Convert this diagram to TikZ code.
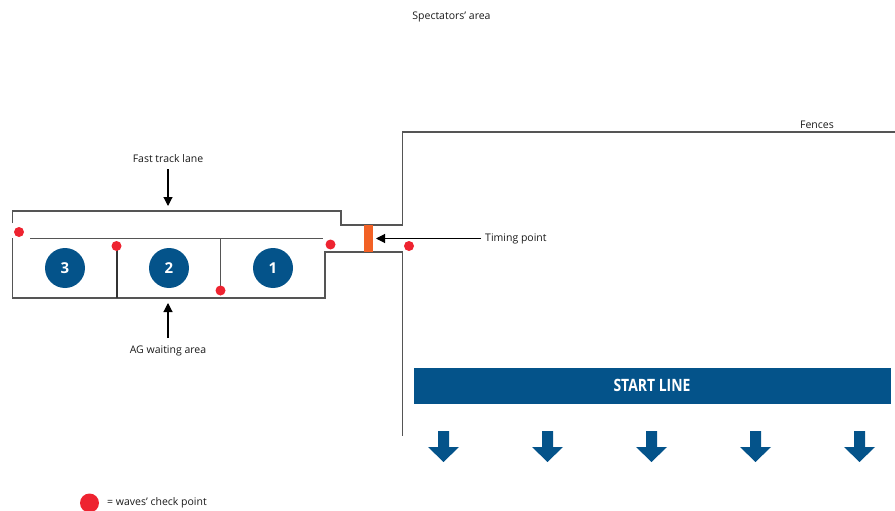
\documentclass[tikz,border=0pt]{standalone}
\usepackage{fontspec}
\setmainfont{Open Sans}
\usetikzlibrary{arrows.meta}
\definecolor{navy}{HTML}{04538A}
\definecolor{wall}{HTML}{555555}
\definecolor{dotred}{HTML}{EE2330}
\definecolor{timing}{HTML}{F26125}
\tikzset{
  x=1pt,y=-1pt,
  wallline/.style={draw=wall,line width=1.4pt,line join=miter},
  thinwall/.style={draw=black!80,line width=1.1pt},
  lbl/.style={font=\fontsize{10.5}{12}\selectfont,inner sep=0pt,text=black!90},
  pointer/.style={draw=black,line width=1.1pt,-{Triangle[length=9pt,width=9pt]}},
  numdisc/.style={circle,fill=navy,minimum size=40pt,inner sep=0pt,text=white,font=\bfseries\fontsize{15}{17}\selectfont},
  chk/.style={circle,fill=dotred,minimum size=10pt,inner sep=0pt},
  downarrow/.style={fill=navy,draw=none},
}
\newcommand{\flowarrow}[1]{\fill[downarrow] (#1-5.5,431) -- (#1+5.5,431) -- (#1+5.5,447) -- (#1+15.5,447) -- (#1,462) -- (#1-15.5,447) -- (#1-5.5,447) -- cycle;}
\begin{document}
\begin{tikzpicture}
\useasboundingbox (0,0) rectangle (895,511);
% walls
\draw[wallline] (12.5,223) -- (12.5,211) -- (341,211) -- (341,225) -- (402.5,225) -- (402.5,132) -- (895,132);
\draw[wallline] (12.5,238) -- (12.5,298) -- (325,298) -- (325,252) -- (402.5,252) -- (402.5,436);
\draw[wallline] (30,238.5) -- (323,238.5);
\draw[thinwall] (117,246) -- (117,298);
\draw[wallline] (220.5,238.5) -- (220.5,291);
% timing gate
\fill[timing] (363.5,225) rectangle (372.5,252);
% checkpoints
\node[chk] (c1) at (19,232) {};
\node[chk] (c2) at (116.5,246) {};
\node[chk] (c3) at (220.5,290.5) {};
\node[chk] (c4) at (330.5,244.5) {};
\node[chk] (c5) at (409,246) {};
% waiting area numbers
\node[numdisc] (n3) at (65,268) {3};
\node[numdisc] (n2) at (169,268) {2};
\node[numdisc] (n1) at (273,268) {1};
% start line
\node[fill=navy,minimum width=477pt,minimum height=36.5pt,inner sep=0pt,text=white,font=\bfseries\fontsize{17}{19}\selectfont] (start) at (652,385.75) {\addfontfeature{FakeStretch=0.82}START LINE};
\flowarrow{443.5}\flowarrow{547.5}\flowarrow{651.5}\flowarrow{755.5}\flowarrow{859.5}
% labels
\node[lbl] (spec) at (451.5,17) {Spectators’ area};
\node[lbl] (fences) at (817,125) {Fences};
\node[lbl] (fast) at (168,159) {Fast track lane};
\node[lbl] (ag) at (168,351) {AG waiting area};
\node[lbl,anchor=west] (tp) at (485,238.5) {Timing point};
\coordinate (fastT) at (168,206);
\coordinate (agT) at (168,303);
\coordinate (tpT) at (376,238.5);
\draw[pointer] (168,169) -- (fastT);
\draw[pointer] (168,338) -- (agT);
\draw[pointer] (tp.west) ++(-4,0) -- (tpT);
% legend
\node[circle,fill=dotred,minimum size=19pt,inner sep=0pt] (leg) at (89.5,503) {};
\node[lbl,anchor=west] (legt) at (107,503) {= waves’ check point};
\end{tikzpicture}
\end{document}
